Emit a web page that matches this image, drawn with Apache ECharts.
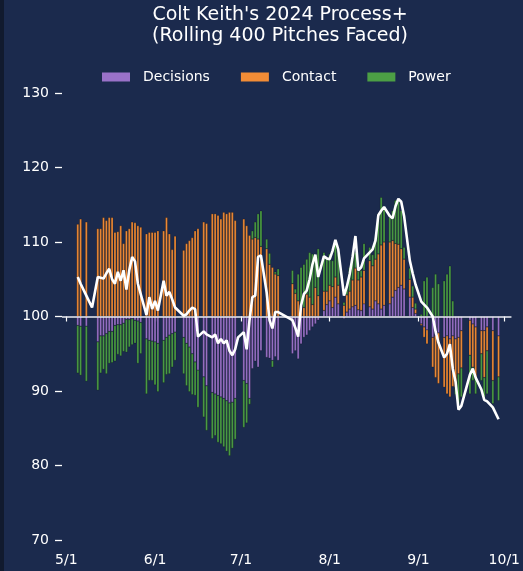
<!DOCTYPE html>
<html><head><meta charset="utf-8">
<script src="https://cdn.jsdelivr.net/npm/echarts@6/dist/echarts.min.js"></script>
<style>html,body{margin:0;padding:0;background:#1b2a4d;}#c{width:523px;height:571px;}</style>
</head><body><div id="c"></div>
<script>
// ---- data ----
const titleText = "Colt Keith's 2024 Process+\n(Rolling 400 Pitches Faced)";
const seriesNames = ['Decisions', 'Contact', 'Power'];
const monthTicks = ['5/1', '6/1', '7/1', '8/1', '9/1', '10/1'];
const yTicks = [70, 80, 90, 100, 110, 120, 130];

const barDates = [
 '05-05','05-06','05-08',
 '05-12','05-13','05-14','05-15','05-16','05-17','05-18','05-19','05-20','05-21','05-22','05-23','05-24','05-25','05-26','05-27',
 '05-29','05-30','05-31','06-01','06-02','06-04','06-05','06-06','06-07','06-08',
 '06-11','06-12','06-13','06-14','06-15','06-16','06-18','06-19','06-21','06-22','06-23','06-24','06-25','06-26','06-27','06-28','06-29',
 '07-02','07-03','07-04','07-05','07-06','07-07','07-08','07-10','07-11','07-12','07-13','07-14',
 '07-19','07-20','07-21','07-22','07-23','07-24','07-25','07-26','07-27','07-28','07-30','07-31',
 '08-01','08-02','08-03','08-04','08-06','08-07','08-08','08-09','08-10','08-11',
 '08-12','08-13','08-15','08-16','08-17','08-18','08-19','08-20','08-22','08-23','08-24','08-25','08-26','08-27','08-29','08-30','08-31',
 '09-02','09-03','09-04','09-06','09-07','09-08','09-10','09-11','09-12','09-13','09-14','09-15','09-16',
 '09-19','09-20','09-21','09-23','09-24','09-25','09-27','09-29'
];
const decisions = [
 -1.2,-1.3,-1.3,
 -3.4,-2.6,-2.6,-2.3,-2.0,-2.0,-1.2,-1.1,-1.1,-0.9,-0.4,-0.4,-0.3,-0.5,-0.6,-0.8,
 -3.0,-3.2,-3.3,-3.4,-3.6,-3.2,-2.8,-2.5,-2.3,-2.1,
 -2.8,-3.6,-4.1,-5.0,-6.1,-7.2,-8.1,-9.3,-10.2,-10.4,-10.6,-10.8,-11.0,-11.3,-11.6,-11.5,-11.0,
 -8.6,-9.0,-11.0,-7.0,-6.0,-6.8,-4.6,-5.5,-5.6,-5.9,-5.4,-5.9,
 -5.0,-4.6,-5.7,-3.7,-2.8,-2.5,-1.9,-1.4,-1.0,-0.5,0.8,1.6,
 2.1,1.2,2.6,1.7,-0.3,0.6,1.0,1.3,1.5,0.9,
 0.8,1.7,1.3,1.0,2.1,1.7,1.0,1.5,1.7,2.6,3.5,3.9,4.2,3.7,2.6,1.2,0.4,
 -1.0,-1.4,-1.8,-2.8,-2.6,-2.2,-2.8,-2.6,-3.0,-2.6,-3.0,-2.8,-1.9,
 -0.5,-1.0,-1.4,-1.9,-1.9,-1.4,-1.9,-2.6
];
const contact = [
 12.4,13.1,12.7,
 11.8,11.8,13.3,12.9,13.3,13.3,11.3,11.4,12.2,9.8,11.5,11.8,12.7,12.6,12.2,12.0,
 11.1,11.3,11.3,11.3,11.5,11.5,13.3,11.1,9.0,10.8,
 8.9,9.8,10.2,10.6,11.5,11.8,12.7,12.5,13.8,13.8,13.6,13.1,14.0,13.8,14.0,14.0,12.9,
 13.1,12.2,10.9,10.4,10.6,10.4,9.4,9.1,7.0,6.6,5.7,5.5,
 4.4,3.1,2.1,1.7,1.2,3.0,2.6,1.6,3.9,2.8,2.6,1.8,
 2.1,2.8,2.7,2.5,1.5,2.3,2.4,3.6,5.0,4.0,
 4.5,4.5,6.2,5.8,5.6,6.7,8.6,8.5,8.3,7.6,6.3,5.8,4.9,4.0,2.4,1.4,0.6,
 -0.2,-1.4,-1.9,-4.0,-5.6,-6.8,-6.7,-7.8,-7.8,-6.8,-6.5,-4.9,-5.0,
 -4.7,-5.8,-6.8,-3.1,-6.3,-3.2,-6.7,-5.5
];
const power = [
 -6.4,-6.6,-7.4,
 -6.5,-5.0,-4.5,-5.4,-4.3,-4.2,-4.8,-4.0,-4.2,-3.8,-4.4,-3.7,-3.5,-3.1,-5.7,-4.2,
 -7.4,-5.4,-5.3,-5.8,-6.5,-5.7,-5.0,-5.2,-4.5,-3.8,
 -4.9,-5.7,-6.0,-5.5,-4.5,-5.0,-5.4,-6.0,-6.2,-5.6,-6.3,-6.3,-6.5,-6.8,-7.1,-6.2,-5.5,
 -6.3,-5.3,-0.8,1.1,2.1,3.4,4.8,1.3,1.5,-0.9,0.3,0.9,
 1.8,0.6,3.6,4.9,5.8,4.7,6.0,6.8,4.3,6.3,5.2,4.6,
 4.2,3.5,4.7,4.2,0.4,1.4,3.2,2.8,2.1,1.2,
 0.9,3.6,1.8,1.5,2.9,5.4,6.4,4.3,3.3,4.0,5.8,5.7,5.1,1.6,1.5,1.5,0.8,
 0.3,4.8,5.3,3.9,5.7,4.4,4.8,5.7,6.8,2.1,-1.0,-4.0,-3.9,
 -5.2,-1.8,-2.2,-3.6,-2.6,-5.8,-3.1,-3.2
];

const lineDates = [
 '05-05','05-06','05-08','05-10',
 '05-12','05-13','05-14','05-15','05-16','05-17','05-18','05-19','05-20','05-21','05-22','05-23','05-24','05-25','05-26','05-27',
 '05-29','05-30','05-31','06-01','06-02','06-04','06-05','06-06','06-07','06-08',
 '06-11','06-12','06-13','06-14','06-15','06-16','06-18','06-19','06-21','06-22','06-23','06-24','06-25','06-26','06-27','06-28','06-29','06-30',
 '07-02','07-03','07-04','07-05','07-06','07-07','07-08','07-10','07-11','07-12','07-13','07-14',
 '07-19','07-20','07-21','07-22','07-23','07-24','07-25','07-26','07-27','07-28','07-30','07-31',
 '08-01','08-02','08-03','08-04','08-06','08-07','08-08','08-09','08-10','08-11',
 '08-12','08-13','08-15','08-16','08-17','08-18','08-19','08-20','08-22','08-23','08-24','08-25','08-26','08-27','08-29','08-30','08-31',
 '09-02','09-03','09-04','09-06','09-07','09-08','09-10','09-11','09-12','09-13','09-14','09-15','09-16',
 '09-19','09-20','09-21','09-23','09-24','09-25','09-27','09-29'
];
const processPlus = [
 105.3,104.4,102.8,101.2,
 105.3,105.2,105.1,105.8,106.4,105.0,104.4,106.0,104.8,106.2,103.6,106.2,108.0,107.4,104.4,103.0,
 100.2,102.6,101.0,102.1,100.8,104.8,102.8,103.3,102.3,101.2,
 100.1,100.3,100.8,101.2,101.0,97.3,98.0,97.6,97.2,97.6,96.4,97.0,96.4,96.8,95.4,94.8,95.6,97.2,
 97.9,95.6,99.5,102.6,102.8,108.0,108.2,103.2,99.5,98.4,100.6,100.6,
 99.5,98.5,97.3,101.5,103.0,103.5,105.0,107.0,108.3,105.3,108.1,107.8,
 107.7,108.8,110.3,109.0,102.8,104.0,105.7,108.0,110.8,106.2,
 106.6,107.8,108.6,109.0,110.2,113.6,114.2,114.7,113.5,113.2,114.8,115.8,115.4,113.5,107.5,105.8,104.3,
 102.0,101.6,101.2,100.0,98.0,96.5,94.5,95.0,96.3,93.0,91.2,87.5,88.0,
 92.2,93.0,91.8,90.2,88.8,88.6,87.8,86.2
];

// ---- chart ----
const YEAR = 2024;
const BASE = 100;
const DAY = 86400000;
const ORIGIN = Date.UTC(YEAR, 4, 1);
const FIRST_DAY = -1, LAST_DAY = 155;   // axis runs Apr 30 .. Oct 3, one category per day
function dayOf(md) { const p = md.split('-').map(Number); return Math.round((Date.UTC(YEAR, p[0] - 1, p[1]) - ORIGIN) / DAY); }
function labelOf(off) { const d = new Date(ORIGIN + off * DAY); return (d.getUTCMonth() + 1) + '/' + d.getUTCDate(); }

const categories = [];
for (let d = FIRST_DAY; d <= LAST_DAY; d++) categories.push(labelOf(d));
function idx(md) { return dayOf(md) - FIRST_DAY; }

function column(dates, vals, shift) {
  const arr = new Array(categories.length).fill(null);
  dates.forEach((d, i) => { arr[idx(d)] = vals[i] - shift; });
  return arr;
}

const colors = { Decisions: '#9a72c9', Contact: '#f28c36', Power: '#4c9f45' };
const font = 'DejaVu Sans';

const barSeries = seriesNames.map((name, k) => ({
  name: name, type: 'bar', stack: 'comp', barWidth: 2.3,
  itemStyle: { color: colors[name], borderColor: 'rgba(0,0,0,0.55)', borderWidth: 0.4 },
  data: column(barDates, [decisions, contact, power][k], 0),
  z: 2
}));

const lineSeries = {
  name: 'Process+', type: 'line', showSymbol: false, symbol: 'none', connectNulls: true,
  lineStyle: { color: '#ffffff', width: 2.6 },
  data: column(lineDates, processPlus, BASE),
  z: 5,
  markLine: {
    silent: true, symbol: ['none', 'none'], label: { show: false },
    lineStyle: { color: '#eceef4', width: 1.5, type: 'solid' },
    data: [{ yAxis: 0 }]
  }
};

const isMonthTick = (i, v) => monthTicks.indexOf(v) >= 0;

const chart = echarts.init(document.getElementById('c'), null, { renderer: 'canvas' });
chart.setOption({
  backgroundColor: '#1b2a4d',
  animation: false,
  graphic: [{ type: 'rect', left: 0, top: 0, shape: { width: 4, height: 571 }, style: { fill: '#111a2e' } }],
  title: {
    text: titleText, left: 280, top: 5, textAlign: 'center', padding: 0,
    textStyle: { color: '#ffffff', fontSize: 19, fontWeight: 'normal', fontFamily: font, lineHeight: 21 }
  },
  legend: {
    data: seriesNames, left: 102, top: 70, padding: 0, icon: 'rect', itemWidth: 28, itemHeight: 9, itemGap: 31,
    itemStyle: { borderWidth: 0 },
    textStyle: { color: '#ffffff', fontSize: 14, fontFamily: font, padding: [0, 0, 0, 8] }
  },
  grid: { left: 62, right: 11, top: 93, bottom: 31, containLabel: false },
  xAxis: {
    type: 'category', data: categories, boundaryGap: true,
    axisLine: { show: false },
    splitLine: { show: false },
    axisTick: { show: true, alignWithLabel: true, interval: isMonthTick, length: 5, lineStyle: { color: '#ffffff', width: 1.2 } },
    axisLabel: { color: '#ffffff', fontSize: 14, fontFamily: font, margin: 13, interval: isMonthTick }
  },
  yAxis: {
    type: 'value', min: yTicks[0] - BASE, max: yTicks[yTicks.length - 1] - BASE, interval: 10,
    axisLine: { show: false },
    splitLine: { show: false },
    axisTick: { show: true, length: 7, lineStyle: { color: '#ffffff', width: 1.3 } },
    axisLabel: { color: '#ffffff', fontSize: 14, fontFamily: font, margin: 13, formatter: function (v) { return String(v + BASE); } }
  },
  series: barSeries.concat([lineSeries])
});
</script>
</body></html>
